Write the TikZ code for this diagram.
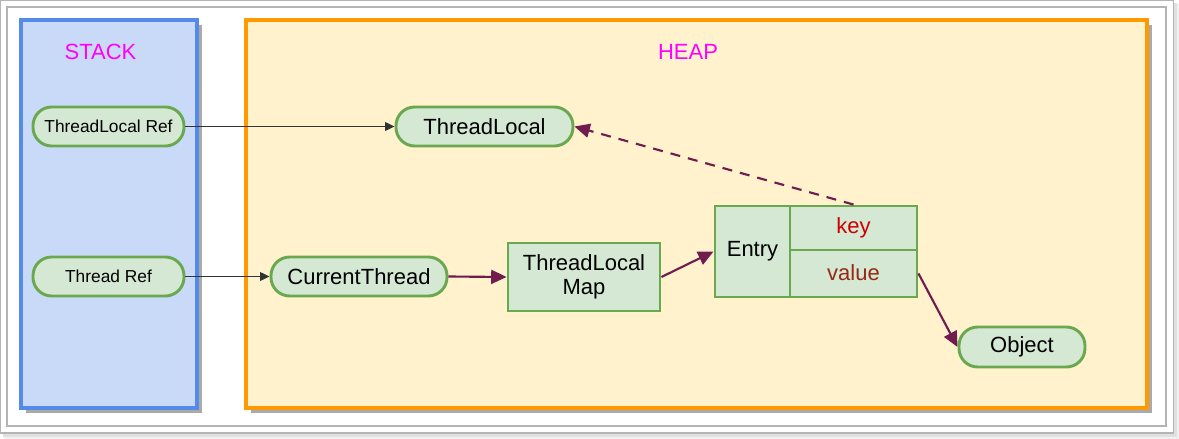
\documentclass[tikz,border=0pt]{standalone}
\usepackage{fontspec}
\setmainfont{Liberation Sans}
\usetikzlibrary{arrows.meta}
\definecolor{stackfill}{RGB}{201,218,248}
\definecolor{stackline}{RGB}{86,138,232}
\definecolor{heapfill}{RGB}{255,242,204}
\definecolor{heapline}{RGB}{255,153,0}
\definecolor{nodefill}{RGB}{213,232,212}
\definecolor{nodeline}{RGB}{106,168,79}
\definecolor{purp}{RGB}{112,28,78}
\definecolor{keyred}{RGB}{204,0,0}
\definecolor{valred}{RGB}{150,40,20}
\definecolor{titlemag}{RGB}{255,0,255}
\definecolor{shadowgray}{RGB}{170,170,170}
\definecolor{framegray}{RGB}{180,180,180}
\tikzset{
  pill/.style={draw=nodeline, fill=nodefill, line width=2.2pt, rounded corners=14pt,
    minimum height=29.25pt, inner sep=0pt, font=\fontsize{16.5}{18}\selectfont},
  smallpill/.style={pill, font=\fontsize{13}{15}\selectfont},
  cell/.style={draw=nodeline, fill=nodefill, line width=2.2pt, inner sep=0pt,
    font=\fontsize{16.5}{18}\selectfont, align=center},
  refarrow/.style={draw=black!80, line width=0.9pt, -{Triangle[length=7pt,width=6.5pt]}},
  purparrow/.style={draw=purp, line width=1.6pt, -{Triangle[length=11.5pt,width=10.5pt]}},
  areabox/.style={line width=2.6pt},
  areatitle/.style={text=titlemag, font=\fontsize{16.5}{18}\selectfont}
}
\begin{document}
\begin{tikzpicture}[x=0.75pt,y=-0.75pt]
\useasboundingbox (0,0) rectangle (1179,439);
% outer frame with shadow
\fill[black!6] (4,4) rectangle (1179,439);
\fill[black!12] (3,3) rectangle (1177,437);
\fill[white] (0,0) rectangle (1174,433);
\draw[framegray, line width=0.9pt] (0.5,0.5) rectangle (1173.5,433);
\draw[framegray, line width=0.9pt] (7,7) rectangle (1166,426);
% stack area
\fill[shadowgray] (26,25) rectangle (202,413);
\draw[areabox, draw=stackline, fill=stackfill] (21,20) rectangle (197,408);
\node[areatitle] (stacktitle) at (100.5,52) {STACK};
% heap area
\fill[shadowgray] (251,25) rectangle (1152,413);
\draw[areabox, draw=heapline, fill=heapfill] (246,20) rectangle (1147,408);
\node[areatitle] (heaptitle) at (688,52) {HEAP};
% nodes
\node[smallpill, minimum width=113.25pt] (tlref) at (108.5,126.5) {ThreadLocal Ref};
\node[smallpill, minimum width=113.25pt] (thref) at (108.5,276.5) {Thread Ref};
\node[pill, minimum width=132.75pt] (tl) at (484.5,126.5) {ThreadLocal};
\node[pill, minimum width=132pt] (ct) at (359,276.5) {CurrentThread};
\node[cell, minimum width=114pt, minimum height=51pt] (tlm) at (584,277) {ThreadLocal\\Map};
\node[cell, minimum width=56.25pt, minimum height=68.25pt] (entry) at (752.5,251.5) {Entry};
\node[cell, minimum width=95.25pt, minimum height=33pt, text=keyred] (key) at (853.5,228) {\raisebox{-2pt}{key}};
\node[cell, minimum width=95.25pt, minimum height=35.25pt, text=valred] (value) at (853.5,273.5) {\raisebox{1pt}{value}};
\node[pill, minimum width=94.5pt, minimum height=30pt] (obj) at (1022,347) {Object};
% connectors
\draw[refarrow] (tlref.east) -- (tl.west);
\draw[refarrow] (thref.east) -- (ct.west);
\draw[purparrow] (ct.east) -- (tlm.west);
\draw[purparrow] (tlm.east) -- (entry.west);
\draw[purparrow, dash pattern=on 7.5pt off 6pt] (key.north) -- (tl.east);
\draw[purparrow] (value.east) -- (obj.west);
\end{tikzpicture}
\end{document}
